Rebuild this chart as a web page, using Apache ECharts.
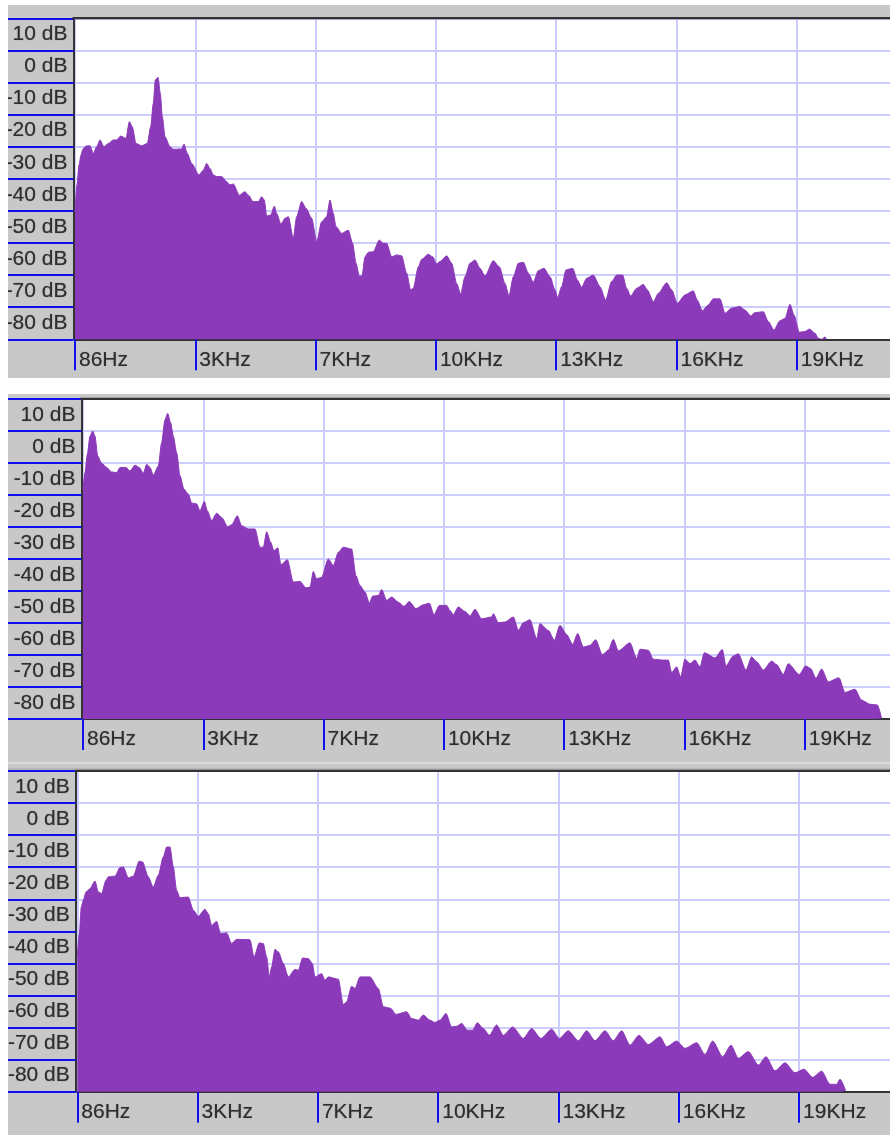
<!DOCTYPE html>
<html><head><meta charset="utf-8">
<style>html,body{margin:0;padding:0;background:#fff}#c{width:890px;height:1135px}</style>
<script src="https://cdn.jsdelivr.net/npm/echarts@6/dist/echarts.min.js"></script>
</head><body><div id="c"></div>
<script>
const freqTicks = [86,3316,6546,9776,13006,16236,19466];
const freqLabels = ['86Hz','3KHz','7KHz','10KHz','13KHz','16KHz','19KHz'];
const dbTicks = [-80,-70,-60,-50,-40,-30,-20,-10,0,10,20];
const hzA = [86,140,193,247,301,381,489,578,668,757,865,981,1115,1205,1312,1455,1545,1625,1724,1876,2028,2118,2189,2243,2315,2377,2431,2503,2637,2726,2950,3013,3102,3219,3415,3532,3621,3711,3800,3890,4024,4158,4248,4337,4498,4650,4740,4874,5009,5098,5170,5232,5340,5438,5501,5617,5725,5814,5948,6038,6172,6288,6441,6575,6709,6843,6933,7022,7094,7246,7425,7541,7631,7720,7792,7873,7962,8096,8257,8365,8454,8589,8723,8857,8991,9099,9170,9305,9394,9573,9689,9797,9886,10065,10200,10334,10441,10558,10692,10826,10960,11095,11318,11479,11632,11739,11855,11990,12124,12258,12392,12527,12679,12840,12974,13046,13153,13269,13448,13574,13690,13824,14003,14182,14334,14496,14630,14791,14898,15006,15167,15346,15453,15614,15749,15972,16107,16259,16465,16688,16795,16930,17091,17225,17404,17538,17717,17941,18076,18228,18344,18568,18702,18854,19015,19150,19284,19391,19534,19687,19803,19955,20045,20134,20224,20268];
const dbA = [-40.2,-31.9,-25.7,-22.6,-20.7,-19.8,-19.7,-22.1,-20,-17.9,-20,-19,-17.9,-17.9,-16.7,-17.4,-12.2,-13.8,-19,-19.7,-19,-13.8,-6.5,0.8,1.6,-3.4,-10.7,-16.9,-20,-20.8,-20.7,-19.2,-22.1,-25.2,-28.8,-27.3,-25.2,-26.8,-28.8,-29.3,-29.3,-30.9,-31.9,-31.6,-35.1,-34,-35.1,-37.1,-37.1,-35.6,-36.6,-41.6,-41.3,-38.5,-40.8,-44.1,-42.3,-41.8,-48.5,-41.8,-37.1,-39.2,-42.3,-49.6,-43.4,-41.8,-36.6,-40.8,-44.9,-47,-46,-50.1,-56.3,-60.3,-60.3,-54.3,-52.9,-52.7,-49.1,-50.1,-50.1,-54.3,-53.7,-54,-59.4,-64.6,-64.1,-57.4,-55.1,-53.5,-54.3,-56.5,-55.8,-54,-56.3,-62.6,-65.9,-60.5,-56.3,-55.3,-57.9,-60.3,-55.5,-57.4,-62.6,-66.5,-60.5,-56.3,-56,-59.4,-62.2,-58.6,-57.9,-60.5,-64.6,-67,-63.6,-58.4,-57.9,-61.5,-63.8,-61,-60,-63.6,-67.8,-62,-60,-60,-64.1,-66.5,-64.1,-62.9,-64.6,-68.3,-65.7,-62.4,-64.6,-68.8,-66.2,-64.9,-67.8,-71.1,-69.3,-67.4,-67.4,-71.9,-70.3,-69.8,-70.9,-72.7,-71.7,-71.4,-74.5,-77.1,-74.2,-73.5,-69.1,-72.4,-77.8,-77.6,-76.8,-78.1,-79.7,-80,-79.3,-80];
const hzB = [86,140,202,274,346,408,480,587,721,856,990,1079,1241,1348,1482,1599,1706,1795,1885,1974,2109,2198,2288,2359,2440,2511,2601,2690,2798,2914,3004,3138,3227,3344,3424,3541,3675,3809,3970,4078,4230,4346,4525,4704,4838,4928,5017,5125,5214,5313,5402,5572,5733,5912,6074,6181,6270,6360,6494,6673,6807,6942,7076,7300,7416,7523,7658,7774,7864,8016,8105,8239,8374,8553,8705,8848,9027,9224,9385,9510,9654,9850,9940,10029,10164,10343,10477,10611,10790,11059,11103,11238,11417,11640,11775,11909,12088,12267,12356,12580,12741,12893,13072,13234,13368,13520,13699,13851,14030,14191,14325,14460,14773,14952,15041,15265,15399,15668,15802,15892,16026,16133,16250,16384,16518,16652,16769,17055,17252,17350,17547,17681,17887,18039,18173,18353,18576,18710,18889,19024,19319,19489,19623,19766,19918,20097,20383,20544,20813,20992,21216,21413,21529];
const dbB = [-8.2,-3,2.7,8.4,10,8.4,2.2,-0.1,-1.4,-2.8,-3,-1.4,-1.4,-2.5,-0.7,-1.4,-3.2,-0.4,-1.4,-3.8,-0.9,6.4,13.6,15.5,12.6,8.4,3.2,-4,-8.2,-9.7,-12.5,-12.8,-14.9,-12,-14.9,-18,-15.7,-17,-19.9,-19.3,-16.5,-19.6,-20.6,-20.6,-26.3,-26.3,-21.5,-24.8,-27.4,-26.5,-31.8,-30.2,-37.2,-37,-39,-38.8,-33.9,-36.2,-35.7,-30,-32,-27.9,-26.3,-26.9,-35.2,-38.3,-40.3,-43.7,-41.6,-41.4,-39.5,-42.9,-41.9,-43.5,-44.8,-43.3,-45.5,-44.3,-43.8,-47.4,-44.5,-44.5,-46.1,-47.4,-45,-46.4,-47.8,-45.7,-48.7,-48.1,-47.1,-49.9,-49.7,-48.1,-52.3,-49.9,-49,-54.9,-50.2,-52.3,-55.4,-50.7,-53.6,-56.7,-53.3,-57.5,-57,-55.2,-59.9,-58.5,-55.1,-58.7,-56.2,-61.1,-58.2,-58.5,-61.3,-61.6,-61.6,-65.5,-63.7,-66.8,-61.3,-62.7,-61.6,-63.7,-59.3,-60.9,-58.3,-63.4,-60.3,-59.6,-64.7,-60.6,-62.1,-64.7,-61.9,-63,-66.1,-62.7,-66.1,-63.4,-64.2,-67.3,-64.4,-68.4,-67.1,-71.7,-70.7,-74.1,-75.4,-75.6,-79.8];
const hzC = [86,140,193,247,319,426,560,650,739,856,918,1097,1232,1321,1455,1590,1751,1840,1992,2126,2261,2395,2485,2574,2664,2753,2843,3066,3201,3335,3514,3603,3693,3827,3935,4096,4230,4364,4722,4830,4973,5080,5170,5241,5304,5393,5483,5617,5751,5930,6020,6136,6288,6396,6467,6646,6736,6825,7094,7228,7318,7452,7541,7676,7944,8168,8302,8499,8642,8929,9063,9242,9376,9555,9689,9824,9985,10137,10271,10406,10558,10701,10826,10987,11148,11345,11524,11775,12061,12285,12535,12822,13028,13269,13538,13762,13985,14254,14477,14701,14925,15167,15417,15731,15910,16178,16402,16715,16939,17145,17413,17637,17834,18102,18371,18577,18818,19087,19355,19597,19830,20071,20295,20474,20564,20716];
const dbC = [-38,-30.7,-22.4,-20.3,-17.7,-16.7,-14.3,-17.7,-18.2,-14.1,-13,-12.8,-10.1,-9.9,-13.3,-12.8,-8.1,-8.4,-13,-16.2,-12.5,-6.8,-3.7,-3.7,-9.9,-17.2,-19.5,-19.3,-23.4,-25.3,-23.1,-24.5,-28.1,-26.9,-30.7,-30.5,-33.8,-32.5,-32.6,-38,-33.6,-33.8,-38,-44.2,-41.1,-35.6,-36.4,-40,-44.2,-41.9,-42.1,-38.3,-38.5,-40,-44.2,-43.2,-45.2,-44.2,-44.9,-52.8,-52,-47.1,-47.8,-44.2,-44.2,-47.8,-53.5,-54,-55.9,-55.1,-57.2,-57.7,-56.1,-57.7,-58.4,-57.7,-55.6,-59.8,-59.6,-58.7,-60.8,-60.8,-58.5,-60.3,-62.4,-59.2,-62.4,-59.8,-63.4,-60.3,-63.4,-60.5,-63.4,-61,-64.1,-61,-64.1,-61,-64.1,-61,-65.5,-62.4,-65.3,-62.9,-66,-64.2,-66.5,-64.7,-68.4,-64.2,-69.1,-65.5,-69.6,-67.5,-71.7,-69.1,-73.5,-71,-74.1,-73,-75.5,-73.6,-77.7,-77.7,-76.1,-79.7];

const layout = [
  {left:75, top:18.3, w:815, h:321, max:21969, hz:hzA, db:dbA},
  {left:83, top:399, w:807, h:320, max:21754, hz:hzB, db:dbB},
  {left:77.3, top:771, w:812.7, h:320.7, max:21906, hz:hzC, db:dbC}
];
const FONT = '"Liberation Sans", Arial, sans-serif', TXT = '#2e2e2e', BLUE = '#1010ee', GRID = '#ccccff', DARK = '#333333', FILL = '#8b3ab9', BAND = '#c8c8c8';
const rect = (x,y,w,h,fill,z) => ({type:'rect',shape:{x,y,width:w,height:h},style:{fill},z,silent:true});
const graphics = [
  rect(8,5,882,373,BAND,-5),
  rect(8,394,882,741,BAND,-5),
  rect(8,762.6,882,1,'#eeeeee',-4),
  rect(8,768.6,882,1,'#a8a8a8',-4),
  rect(0,0,8,1135,'#ffffff',50)
];
layout.forEach(p => graphics.push(rect(p.left-2.5,p.top-1.2,900,2.2,DARK,40)));
const blur = {textShadowColor:'rgba(45,45,45,0.55)',textShadowBlur:1};

const option = {
  animation:false, backgroundColor:'#ffffff',
  graphic:{elements:graphics},
  grid:layout.map(p=>({left:p.left,top:p.top,width:p.w,height:p.h,show:true,backgroundColor:'#ffffff',borderWidth:0,containLabel:false})),
  xAxis:layout.map((p,i)=>({
    type:'value',gridIndex:i,min:86,max:p.max,
    axisLine:{show:true,onZero:false,lineStyle:{color:DARK,width:2}},
    axisTick:{show:true,length:31,customValues:freqTicks,lineStyle:{color:BLUE,width:2}},
    splitLine:{show:true,lineStyle:{color:GRID,width:2}},
    axisLabel:{show:true,customValues:freqTicks,align:'left',margin:10,padding:[0,0,0,4],color:TXT,fontFamily:FONT,fontSize:21,...blur,
      formatter:v=>freqLabels[freqTicks.indexOf(v)]||''}
  })),
  yAxis:layout.map((p,i)=>({
    type:'value',gridIndex:i,min:-80,max:20,offset:1.5,
    axisLine:{show:true,onZero:false,lineStyle:{color:DARK,width:2}},
    axisTick:{show:true,length:p.left-9.5,customValues:dbTicks,lineStyle:{color:BLUE,width:2}},
    splitLine:{show:true,lineStyle:{color:GRID,width:2}},
    axisLabel:{show:true,customValues:dbTicks.slice(0,-1),margin:6,align:'right',verticalAlign:'bottom',lineHeight:32,color:TXT,fontFamily:FONT,fontSize:21,...blur,
      formatter:v=>v+' dB'}
  })),
  series:layout.map((p,i)=>({
    type:'line',xAxisIndex:i,yAxisIndex:i,symbol:'none',smooth:0.25,smoothMonotone:'x',silent:true,
    lineStyle:{color:FILL,width:1},itemStyle:{color:FILL},
    areaStyle:{color:FILL,opacity:1,origin:'start'},
    data:p.hz.map((h,k)=>[h,p.db[k]])
  }))
};
const chart = echarts.init(document.getElementById('c'),null,{renderer:'canvas'});
chart.setOption(option);
</script></body></html>
